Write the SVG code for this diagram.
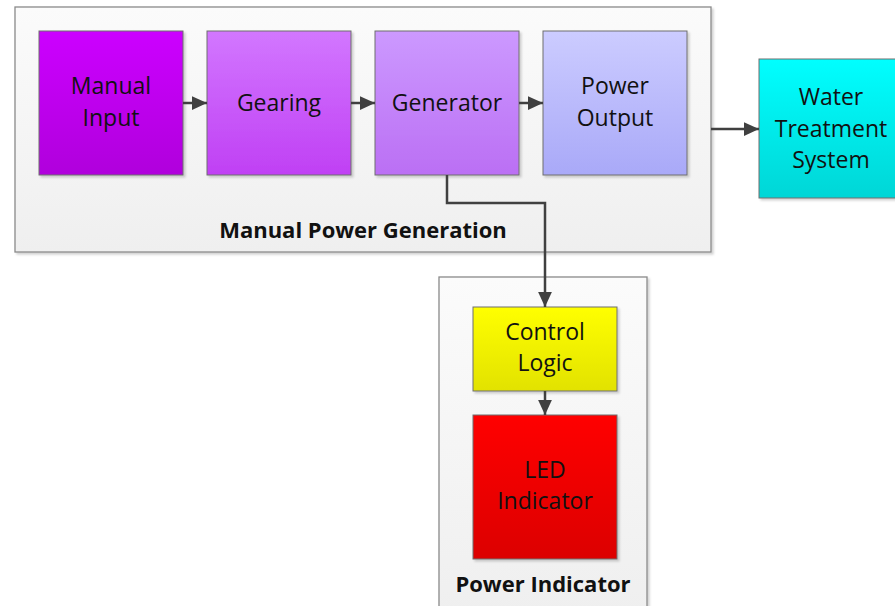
<svg xmlns="http://www.w3.org/2000/svg" width="895" height="606" viewBox="0 0 895 606">
<style>
.box{stroke:#6e6e6e;stroke-width:1}
.cont{fill:url(#gCont);stroke:#8a8a8a;stroke-width:1.3}
.t{font-family:"Open Sans","Liberation Sans",sans-serif;font-size:23px;fill:#111;text-anchor:middle}
.b{font-family:"Open Sans","Liberation Sans",sans-serif;font-size:22px;font-weight:bold;fill:#111;text-anchor:middle}
.c{fill:none;stroke:#404040;stroke-width:2.5}
</style>
<defs>
<linearGradient id="gCont" x1="0" y1="0" x2="0" y2="1"><stop offset="0" stop-color="#fbfbfb"/><stop offset="1" stop-color="#efefef"/></linearGradient>
<linearGradient id="g1" x1="0" y1="0" x2="0" y2="1"><stop offset="0" stop-color="#cc00ff"/><stop offset="1" stop-color="#b000dc"/></linearGradient>
<linearGradient id="g2" x1="0" y1="0" x2="0" y2="1"><stop offset="0" stop-color="#d277ff"/><stop offset="1" stop-color="#c040f4"/></linearGradient>
<linearGradient id="g3" x1="0" y1="0" x2="0" y2="1"><stop offset="0" stop-color="#cc99ff"/><stop offset="1" stop-color="#bb6ff4"/></linearGradient>
<linearGradient id="g4" x1="0" y1="0" x2="0" y2="1"><stop offset="0" stop-color="#ccccff"/><stop offset="1" stop-color="#a9a9f8"/></linearGradient>
<linearGradient id="g5" x1="0" y1="0" x2="0" y2="1"><stop offset="0" stop-color="#00ffff"/><stop offset="1" stop-color="#00d6d6"/></linearGradient>
<linearGradient id="g6" x1="0" y1="0" x2="0" y2="1"><stop offset="0" stop-color="#ffff00"/><stop offset="1" stop-color="#e2e200"/></linearGradient>
<linearGradient id="g7" x1="0" y1="0" x2="0" y2="1"><stop offset="0" stop-color="#ff0000"/><stop offset="1" stop-color="#dc0000"/></linearGradient>
<filter id="sh" x="-10%" y="-10%" width="130%" height="130%"><feDropShadow dx="2" dy="2" stdDeviation="1.2" flood-color="#000" flood-opacity="0.18"/></filter>
<marker id="ah" viewBox="0 0 12 11" refX="12" refY="5.5" markerWidth="6" markerHeight="5.5" markerUnits="strokeWidth" orient="auto"><path d="M0,0 L12,5.5 L0,11 z" fill="#404040"/></marker>
</defs>

<g id="manual-power-generation">
<rect class="cont" x="15" y="7" width="696" height="245" filter="url(#sh)"/>
<text class="b" x="363" y="238">Manual Power Generation</text>
</g>
<g id="power-indicator">
<rect class="cont" x="439" y="277" width="208" height="340" filter="url(#sh)"/>
<text class="b" x="543" y="592">Power Indicator</text>
</g>

<g id="manual-input">
<rect class="box" x="39" y="31" width="144" height="144" fill="url(#g1)" filter="url(#sh)"/>
<text class="t" x="111" y="94">Manual</text><text class="t" x="111" y="126">Input</text>
</g>
<g id="gearing">
<rect class="box" x="207" y="31" width="144" height="144" fill="url(#g2)" filter="url(#sh)"/>
<text class="t" x="279" y="111">Gearing</text>
</g>
<g id="generator">
<rect class="box" x="375" y="31" width="144" height="144" fill="url(#g3)" filter="url(#sh)"/>
<text class="t" x="447" y="111">Generator</text>
</g>
<g id="power-output">
<rect class="box" x="543" y="31" width="144" height="144" fill="url(#g4)" filter="url(#sh)"/>
<text class="t" x="615" y="94">Power</text><text class="t" x="615" y="126">Output</text>
</g>
<g id="water-treatment-system">
<rect class="box" x="759" y="59" width="144" height="139" fill="url(#g5)" filter="url(#sh)"/>
<text class="t" x="831" y="105">Water</text><text class="t" x="831" y="137">Treatment</text><text class="t" x="831" y="168">System</text>
</g>
<g id="control-logic">
<rect class="box" x="473" y="307" width="144" height="84" fill="url(#g6)" filter="url(#sh)"/>
<text class="t" x="545" y="340">Control</text><text class="t" x="545" y="371">Logic</text>
</g>
<g id="led-indicator">
<rect class="box" x="473" y="415" width="144" height="144" fill="url(#g7)" filter="url(#sh)"/>
<text class="t" x="545" y="478">LED</text><text class="t" x="545" y="509">Indicator</text>
</g>

<g id="connectors">
<path class="c" d="M183,103 H207" marker-end="url(#ah)"/>
<path class="c" d="M351,103 H375" marker-end="url(#ah)"/>
<path class="c" d="M519,103 H543" marker-end="url(#ah)"/>
<path class="c" d="M711,129 H759" marker-end="url(#ah)"/>
<path class="c" d="M447,175 V203 H545 V307" marker-end="url(#ah)"/>
<path class="c" d="M545,391 V415" marker-end="url(#ah)"/>
</g>
</svg>
